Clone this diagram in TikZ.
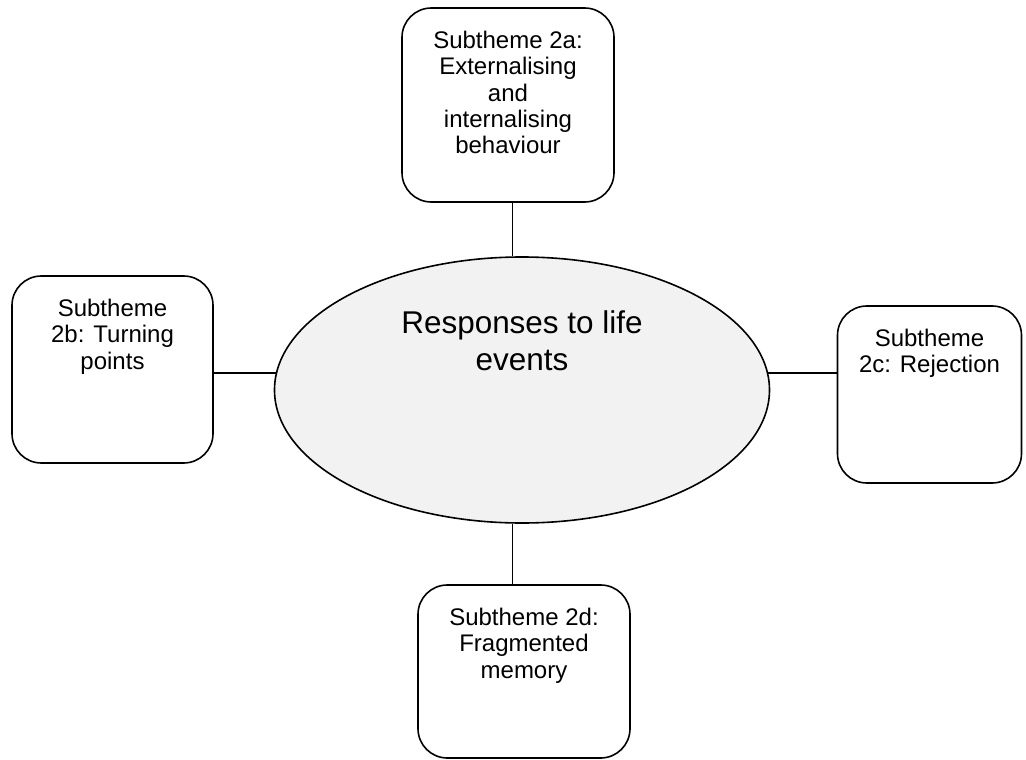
\documentclass[tikz,border=0pt]{standalone}
\usepackage{fontspec}
\setmainfont{Liberation Sans}
\usetikzlibrary{shapes.geometric}

\tikzset{
	subbox/.style = {draw, line width=1.2pt, rounded corners=22pt, fill=white, inner sep=0pt},
	core/.style = {draw, ellipse, line width=1.2pt, fill=black!5, inner sep=0pt},
	link/.style = {line width=1.2pt}
}

% box text: fixed height, text at the top
\newcommand{\boxtext}[3]{\parbox[c][#2][t]{#1}{\centering\fontsize{18}{19.7}\selectfont\vspace*{17.5pt}#3}}

\begin{document}
\begin{tikzpicture}[x = 0.75pt, y = -0.75pt]
	\useasboundingbox (0,0) rectangle (1026,760);
	\node (core) [core, minimum width=371.25pt, minimum height=199.5pt] at (522,390)
		{\parbox[c][124pt][t]{200pt}{\centering\fontsize{23.6}{27.7}\selectfont\strut Responses to life\\ events}};
	\node (top) [subbox, minimum width=159pt, minimum height=145.5pt] at (508,105)
		{\boxtext{150pt}{145.5pt}{Subtheme 2a:\\ Externalising\\ and\\ internalising\\ behaviour}};
	\node (left) [subbox, minimum width=150.75pt, minimum height=140.25pt] at (112.5,369.5)
		{\boxtext{140pt}{140.25pt}{Subtheme\\ 2b: Turning\\ points}};
	\node (right) [subbox, minimum width=138pt, minimum height=132.75pt] at (929.5,394.5)
		{\boxtext{130pt}{132.75pt}{Subtheme\\ 2c: Rejection}};
	\node (bottom) [subbox, minimum width=159pt, minimum height=129.75pt] at (524,671.5)
		{\boxtext{150pt}{129.75pt}{Subtheme 2d:\\ Fragmented\\ memory}};
	\draw [link] (core.94) -- (core.94 |- top.south);
	\draw [link] (core.176) -- (core.176 -| left.east);
	\draw [link] (core.4) -- (core.4 -| right.west);
	\draw [link] (core.266) -- (core.266 |- bottom.north);
\end{tikzpicture}
\end{document}
